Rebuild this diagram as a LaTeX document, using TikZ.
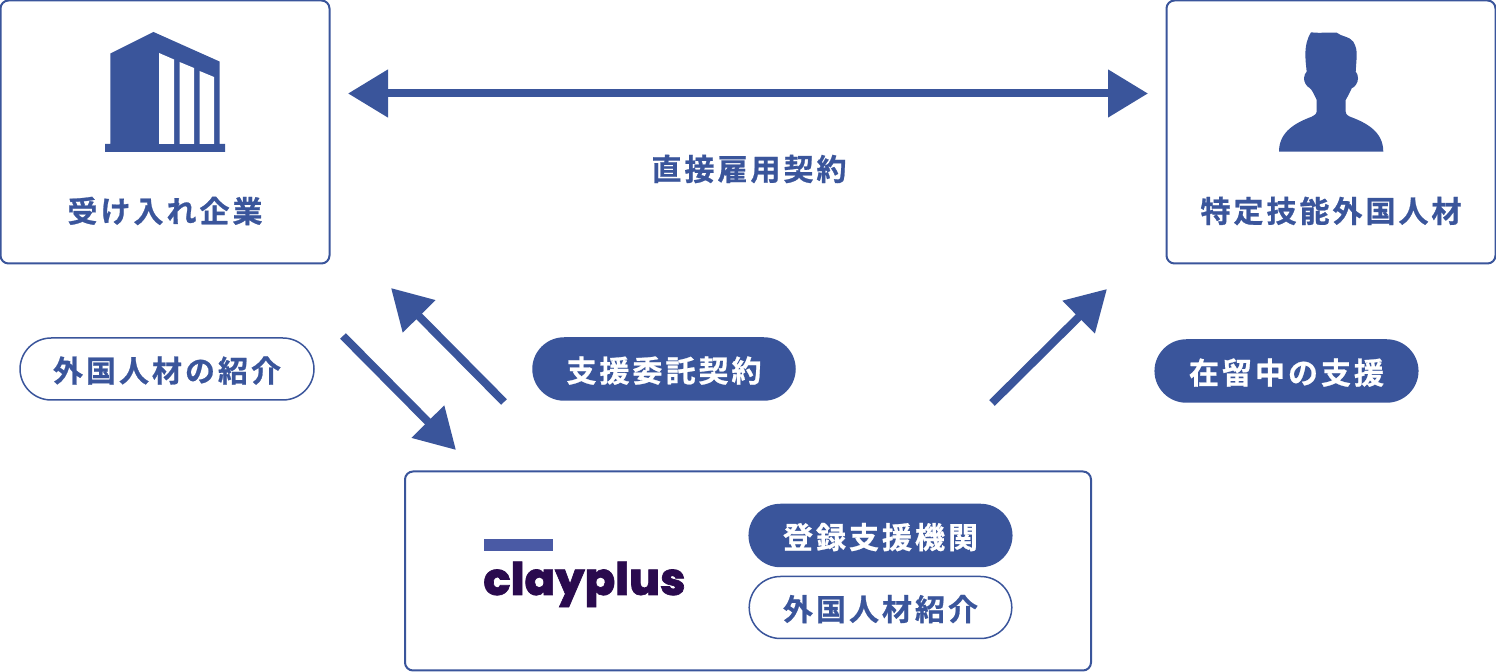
\documentclass[tikz,border=0pt]{standalone}
\usepackage{fontspec}
\newfontfamily\jpfont[LetterSpace=10,FakeBold=0.8]{Noto Sans CJK JP Bold}
\newfontfamily\logofont[FakeBold=1.5]{Poppins ExtraBold}
\usetikzlibrary{arrows.meta}
\usetikzlibrary{calc}
\definecolor{bleu}{HTML}{3A559B}
\definecolor{violet}{HTML}{2A0A4E}
\definecolor{barre}{HTML}{4A5AA5}
\tikzset{
    boite/.style={draw=bleu, line width=1pt, rounded corners=4pt, inner sep=0pt},
    etiquette/.style={text=bleu, font=\jpfont\fontsize{15pt}{15pt}\selectfont, inner sep=0pt},
    pilule/.style={draw=bleu, line width=0.75pt, rounded corners=15.6pt, minimum height=31pt, inner sep=0pt, text=bleu, text height=14pt, text depth=1pt, font=\jpfont\fontsize{15pt}{15pt}\selectfont},
    pilulepleine/.style={pilule, fill=bleu, text=white},
    fleche/.style={draw=bleu, line width=4pt, -{Triangle[length=20pt,width=22pt]}},
}
\begin{document}
\begin{tikzpicture}[x=0.5pt,y=-0.5pt]
    \useasboundingbox (0,0) rectangle (1496,672);
    \node[boite, minimum width=164.5pt, minimum height=131.5pt] (entreprise) at (165,132) {};
    \node[boite, minimum width=164.5pt, minimum height=131.5pt] (personne) at (1331,132) {};
    \node[boite, minimum width=343pt, minimum height=99.5pt] (clayplus) at (748,571) {};
    \node[etiquette] (entrepriseT) at (165,211) {受け入れ企業};
    \node[etiquette] (personneT) at (1331,211) {特定技能外国人材};
    \node[etiquette] (contrat) at (749,169) {直接雇用契約};
    \node[pilule, minimum width=147pt] (presentation) at (167,369) {外国人材の紹介};
    \node[pilulepleine, minimum width=131pt] (mandat) at (664,369) {支援委託契約};
    \node[pilulepleine, minimum width=131.3pt] (sejour) at (1286.5,371) {在留中の支援};
    \node[pilulepleine, minimum width=131.3pt] (organisme) at (880.5,535.5) {登録支援機関};
    \node[pilule, minimum width=131.3pt] (agence) at (880.5,607.5) {外国人材紹介};
    % logo
    \node[fill=barre, minimum width=34.5pt, minimum height=6pt, inner sep=0pt] (barreLogo) at (518.5,545) {};
    \node[anchor=base west, inner sep=0pt, text=violet, font=\logofont\fontsize{22.5pt}{22.5pt}\selectfont] (logo) at (483,595) {clayplus};
    % immeuble
    \fill[bleu] (105,152) -- (105,144) -- (110.3,144) -- (110.3,53.5) -- (153.5,32) -- (219.5,61.5) -- (219.5,144) -- (225,144) -- (225,152) -- cycle;
    \fill[white] (159,144) -- (159,53) -- (174,59.5) -- (174,144) -- cycle;
    \fill[white] (179.5,144) -- (179.5,62) -- (194,68) -- (194,144) -- cycle;
    \fill[white] (199.5,144) -- (199.5,71) -- (214,77) -- (214,144) -- cycle;
    % silhouette
    \fill[bleu] (1279,151.7) .. controls (1279,132) and (1295,123) .. (1311.7,116.7)
        .. controls (1316,114.5) and (1316.7,113) .. (1316.7,111.7) -- (1316.7,100)
        .. controls (1314,94) and (1312,90) .. (1310,88.3)
        .. controls (1306,86) and (1304,82) .. (1304,78.3)
        .. controls (1304,75) and (1305.5,73) .. (1306.7,71.7)
        .. controls (1305.5,60) and (1303,45) .. (1311,32.3)
        .. controls (1320,33.5) and (1330,32) .. (1336.7,32.7)
        .. controls (1342,37) and (1349,36) .. (1353.3,41.7)
        .. controls (1356,46) and (1357,51) .. (1356.7,56.7)
        -- (1355.7,71.7)
        .. controls (1357,73) and (1358,75) .. (1358,78.3)
        .. controls (1358,83) and (1355,87) .. (1351.7,88.3)
        .. controls (1350,92) and (1348,96) .. (1345.7,100) -- (1345.7,111.7)
        .. controls (1345.7,113) and (1346,115) .. (1350,116.7)
        .. controls (1367,123) and (1383.3,132) .. (1383.3,151.7) -- cycle;
    % fleches
    \coordinate (gaucheC) at (348,93.5);
    \coordinate (droiteC) at (1148,93.5);
    \coordinate (aD) at (343,336);
    \coordinate (aF) at (456,450);
    \coordinate (bD) at (504,402);
    \coordinate (bF) at (391,288);
    \coordinate (cD) at (992,403);
    \coordinate (cF) at (1107,289);
    \draw[fleche, {Triangle[length=20pt,width=23pt]}-{Triangle[length=20pt,width=23pt]}] (gaucheC) -- (droiteC);
    \draw[fleche] (aD) -- (aF);
    \draw[fleche] (bD) -- (bF);
    \draw[fleche] (cD) -- (cF);
\end{tikzpicture}
\end{document}
